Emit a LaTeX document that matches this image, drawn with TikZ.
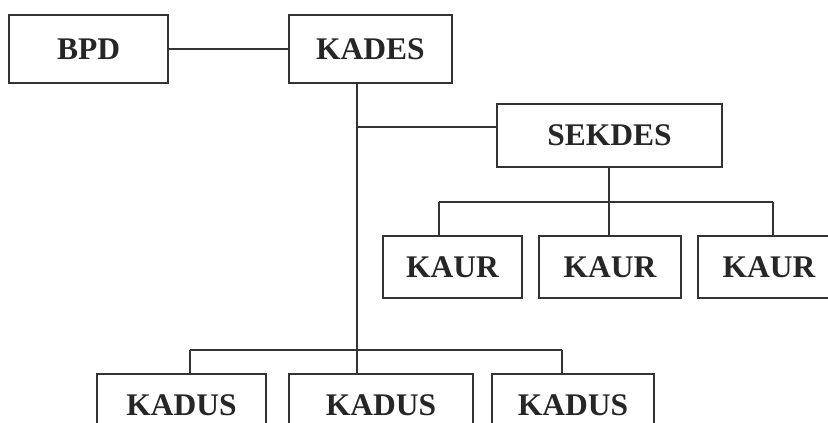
\documentclass[tikz,border=0pt]{standalone}
\usepackage{fontspec}
\setmainfont{Liberation Serif}
\usepackage{tikz}

\begin{document}
\begin{tikzpicture}[x=1pt, y=-1pt,
    box/.style={draw=black!80, line width=1.8pt, inner sep=0pt,
        minimum height=62pt, text=black!85,
        font=\bfseries\fontsize{31.5}{36}\selectfont},
    link/.style={draw=black!80, line width=1.8pt}]
    % Page frame
    \useasboundingbox (0,0) rectangle (828,423);
    \clip (0,0) rectangle (828,423);

    % Top level
    \node[box, minimum width=159pt, minimum height=68pt] (bpd) at (88.5,49) {BPD};
    \node[box, minimum width=163pt, minimum height=68pt] (kades) at (370.5,49) {KADES};
    \draw[link] (bpd.east) -- (bpd.east -| kades.west);

    % Secretary
    \node[box, minimum width=225pt, minimum height=63pt] (sekdes) at (609.5,135.5) {SEKDES};

    % Heads of affairs
    \node[box, minimum width=139pt] (kaur1) at (452.5,267) {KAUR};
    \node[box, minimum width=142pt] (kaur2) at (610,267) {KAUR};
    \node[box, minimum width=142pt] (kaur3) at (769,267) {KAUR};

    % Heads of hamlets
    \node[box, minimum width=169pt] (kadus1) at (181.5,405) {KADUS};
    \node[box, minimum width=184pt] (kadus2) at (381,405) {KADUS};
    \node[box, minimum width=162pt] (kadus3) at (573,405) {KADUS};

    % Joints
    \coordinate (trunk) at (357,350);
    \coordinate (sekjoin) at (357,127);
    \coordinate (kaurL) at (439,202);
    \coordinate (kaurR) at (773,202);
    \coordinate (kadusL) at (190,350);
    \coordinate (kadusR) at (562,350);

    % Main line
    \draw[link] (kades.south -| trunk) -- (trunk |- kadus2.north);
    \draw[link] (sekjoin) -- (sekjoin -| sekdes.west);

    % Under SEKDES
    \draw[link] (sekdes.south -| 609,0) -- (kaur2.north -| 609,0);
    \draw[link] (kaurL) -- (kaurR);
    \draw[link] (kaurL) -- (kaurL |- kaur1.north);
    \draw[link] (kaurR) -- (kaurR |- kaur3.north);

    % Under KADES
    \draw[link] (kadusL) -- (kadusR);
    \draw[link] (kadusL) -- (kadusL |- kadus1.north);
    \draw[link] (kadusR) -- (kadusR |- kadus3.north);
\end{tikzpicture}
\end{document}
